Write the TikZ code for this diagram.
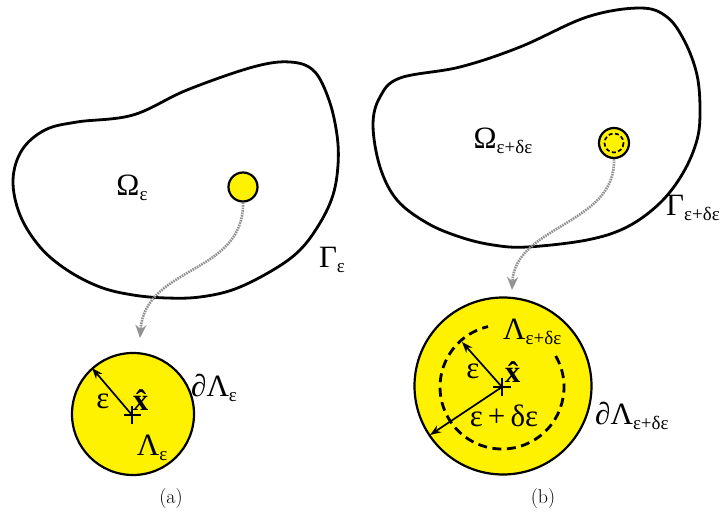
\documentclass[tikz,border=0pt]{standalone}
\usepackage{fontspec}
\newfontfamily\tfont{Liberation Serif}
\usetikzlibrary{arrows.meta}
\newcommand{\subL}[1]{\raisebox{-5pt}{\fontsize{19}{21}\selectfont #1}}
\begin{document}
\begin{tikzpicture}[x=1pt,y=-1pt,
  blob/.style={draw=black,line width=2.8pt},
  disc/.style={circle,draw=black,line width=2.2pt,fill=yellow,inner sep=0pt},
  trail/.style={draw=gray!85,line width=2.6pt,dash pattern=on 1.6pt off 0.9pt,-{Stealth[length=13pt,width=11pt,fill=gray!85]}},
  radarrow/.style={draw=black,line width=1.7pt,-{Stealth[length=11pt,width=8pt]}},
  lab/.style={font=\tfont\fontsize{31}{33}\selectfont,inner sep=1pt},
  captext/.style={font=\fontsize{20}{22}\selectfont}]
\useasboundingbox (0,0) rectangle (723,521);
% domains
\draw[blob] plot[smooth cycle,tension=0.6] coordinates {(13,180) (22,150) (45,130) (77,122) (133,115) (187,90) (253,67) (290,62) (314,71) (329,100) (337,135) (338,165) (333,195) (320,223) (300,250) (273,270) (235,289) (200,297) (167,298) (133,295) (100,287) (67,270) (40,247) (20,215)};
\draw[blob] plot[smooth cycle,tension=0.6] coordinates {(373,125) (380,97) (400,78) (460,67) (520,47) (587,17) (640,8) (667,17) (685,42) (697,75) (700,110) (697,140) (683,173) (660,203) (627,227) (587,240) (527,247) (493,245) (460,237) (427,223) (397,200) (380,167)};
% small inclusions
\node[disc,minimum size=29pt] (sa) at (243,187) {};
\node[disc,minimum size=30pt] (sb) at (614,143) {};
\draw[line width=1.7pt,dash pattern=on 4pt off 2.5pt] (sb.center) circle (9.5);
% labels in domains
\node[lab] (om) at (132,188) {Ω\subL{ε}};
\node[lab] (gm) at (332,260) {Γ\subL{ε}};
\node[lab] (omb) at (503,141) {Ω\subL{ε+δε}};
\node[lab,anchor=west] (gmb) at (665,208) {Γ\subL{ε+δε}};
% big discs
\node[disc,minimum size=122pt] (ba) at (133,414) {};
\node[disc,minimum size=177pt] (bb) at (503,386) {};
\draw[line width=2.8pt,dash pattern=on 9pt off 5.5pt] (555.7,356) arc[start angle=-30,end angle=257,radius=62];
% connectors
\coordinate (ta) at (140,338);
\coordinate (tb) at (512,290);
\draw[trail] (sa.south) .. controls (244,275) and (145,265) .. (ta);
\draw[trail] (sb.south) .. controls (616,225) and (515,225) .. (tb);
% disc (a)
\coordinate (ca) at (132,415);
\coordinate (ea) at (92,368);
\draw[line width=1.4pt] (124,415) -- (141,415) (132,406) -- (132,424);
\draw[radarrow] (ca) -- (ea);
\node[lab] (la) at (103,401) {ε};
\node[lab] (xa) at (143,400) {\textbf{\^{x}}};
\node[lab] (Lla) at (152,448) {Λ\subL{ε}};
\node[lab,anchor=west] (dla) at (190,388) {∂Λ\subL{ε}};
% disc (b)
\coordinate (cb) at (502,387);
\coordinate (eb1) at (462,342);
\coordinate (eb2) at (430,435);
\draw[line width=1.4pt] (493,387) -- (511,387) (502,378) -- (502,396);
\draw[radarrow] (cb) -- (eb1);
\draw[radarrow] (cb) -- (eb2);
\node[lab] (lb) at (473,371) {ε};
\node[lab] (xb) at (515,372) {\textbf{\^{x}}};
\node[lab] (sumb) at (504,416) {ε\,+\,δε};
\node[lab,anchor=west] (Llb) at (502,332) {Λ\subL{ε+δε}};
\node[lab,anchor=west] (dlb) at (594,416) {∂Λ\subL{ε+δε}};
% captions
\node[captext] (capa) at (171,499) {(a)};
\node[captext] (capb) at (543,499) {(b)};
\end{tikzpicture}
\end{document}
